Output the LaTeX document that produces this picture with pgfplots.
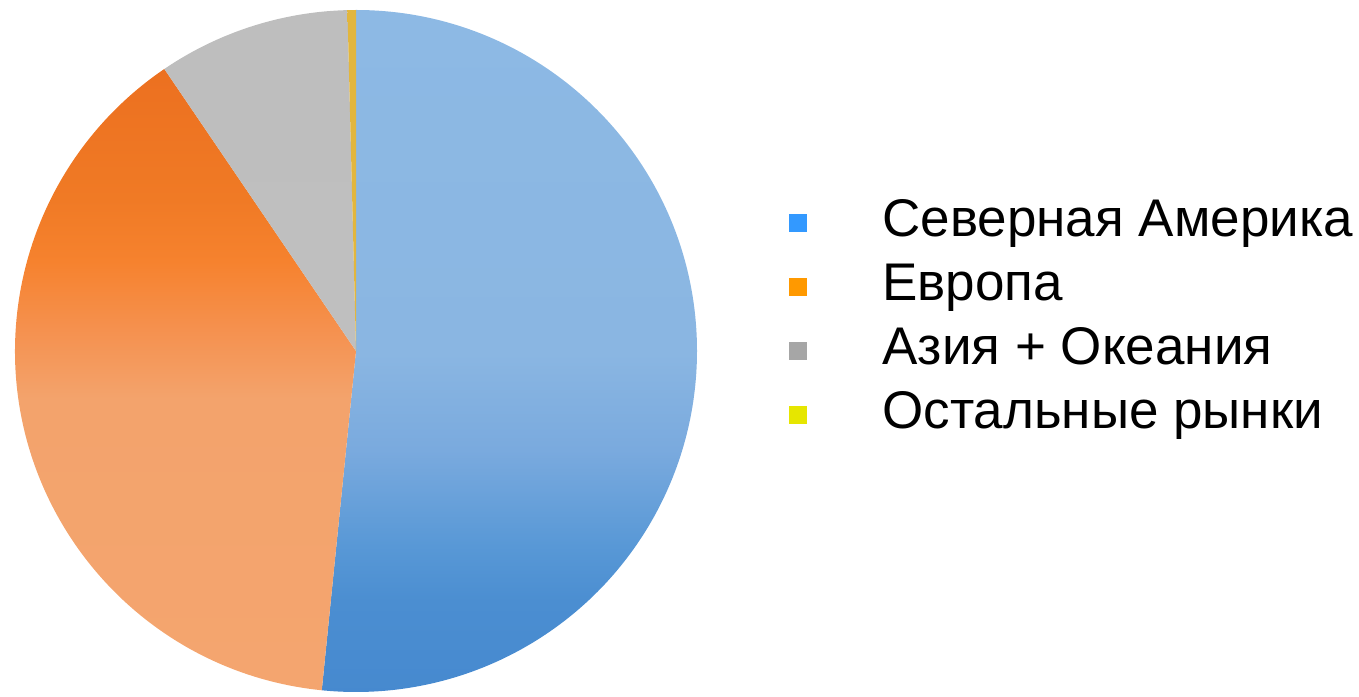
\documentclass[border=0pt]{standalone}
\usepackage{fontspec}
\setmainfont{Liberation Sans}
\usepackage{pgfplots}
\usepackage{pgfplotstable}
\pgfplotsset{compat=1.18}

% legend colours
\definecolor{naLeg}{HTML}{3399FF}
\definecolor{euLeg}{HTML}{FF9900}
\definecolor{asLeg}{HTML}{A6A6A6}
\definecolor{otLeg}{HTML}{E6E600}

% slice gradients; tikz maps 25bp..75bp onto the slice's bounding box
\pgfdeclareverticalshading{naShade}{100bp}{
  color(0bp)=(rgb,255:red,70;green,137;blue,207);
  color(25bp)=(rgb,255:red,70;green,137;blue,207);
  color(32bp)=(rgb,255:red,75;green,142;blue,209);
  color(36bp)=(rgb,255:red,88;green,152;blue,214);
  color(43bp)=(rgb,255:red,122;green,170;blue,222);
  color(50bp)=(rgb,255:red,138;green,182;blue,226);
  color(75bp)=(rgb,255:red,141;green,185;blue,228);
  color(100bp)=(rgb,255:red,141;green,185;blue,228)}
\pgfdeclareverticalshading{euShade}{100bp}{
  color(0bp)=(rgb,255:red,244;green,165;blue,111);
  color(25bp)=(rgb,255:red,244;green,165;blue,111);
  color(48.5bp)=(rgb,255:red,243;green,163;blue,108);
  color(54bp)=(rgb,255:red,245;green,145;blue,79);
  color(59.5bp)=(rgb,255:red,246;green,130;blue,46);
  color(64.5bp)=(rgb,255:red,240;green,122;blue,37);
  color(75bp)=(rgb,255:red,236;green,112;blue,32);
  color(100bp)=(rgb,255:red,236;green,112;blue,32)}
\pgfdeclareverticalshading{asShade}{100bp}{
  color(0bp)=(rgb,255:red,192;green,192;blue,192);
  color(100bp)=(rgb,255:red,189;green,189;blue,189)}
\pgfdeclareverticalshading{otShade}{100bp}{
  color(0bp)=(rgb,255:red,226;green,182;blue,62);
  color(100bp)=(rgb,255:red,226;green,182;blue,62)}

% shares in percent, clockwise from 12 o'clock
\pgfplotstableread{
share shade
51.6 naShade
38.9 euShade
9.1 asShade
0.4 otShade
}\piedata

\begin{document}
\begin{tikzpicture}
\path[use as bounding box] (0,0) rectangle (1359bp,697bp);
\begin{axis}[
    hide axis,
    x=341bp, y=341bp,
    xmin=-1, xmax=1, ymin=-1, ymax=1,
    clip=false,
    at={(356bp,346bp)}, anchor=center,
    legend style={
        at={(1.135,0.547)}, anchor=west,
        draw=none, fill=none, inner sep=0pt, outer sep=0pt,
        font=\fontsize{53bp}{64bp}\selectfont,
        nodes={inner sep=0pt, text height=38bp, text depth=11bp},
        row sep=15bp, column sep=0pt,
    },
    legend cell align=left,
    legend image code/.code={
        \fill[#1, draw=none] (0bp,-9bp) rectangle (18bp,9bp);
        \path (0bp,0bp) (93bp,0bp);
    },
]
\pgfplotsextra{
    \xdef\startang{90}
    \foreach \i in {0,...,3} {
        \pgfplotstablegetelem{\i}{share}\of\piedata
        \let\v\pgfplotsretval
        \pgfplotstablegetelem{\i}{shade}\of\piedata
        \let\sh\pgfplotsretval
        \pgfmathsetmacro\endang{\startang-3.6*\v}
        \shade[shading=\sh]
            (axis cs:0,0) -- ++(\startang:341bp)
            arc[start angle=\startang, end angle=\endang, radius=341bp] -- cycle;
        \xdef\startang{\endang}
    }
}
\addlegendimage{fill=naLeg}
\addlegendentry{Северная Америка}
\addlegendimage{fill=euLeg}
\addlegendentry{Европа}
\addlegendimage{fill=asLeg}
\addlegendentry{Азия + Океания}
\addlegendimage{fill=otLeg}
\addlegendentry{Остальные рынки}
\end{axis}
\end{tikzpicture}
\end{document}
